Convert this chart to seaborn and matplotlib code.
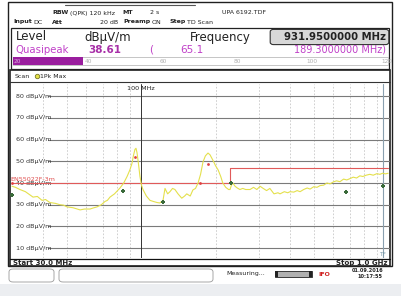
import numpy as np
import pandas as pd
import matplotlib
matplotlib.use("Agg")
import matplotlib.pyplot as plt
from matplotlib.patches import Rectangle, FancyBboxPatch
import seaborn as sns

# ---------------- data ----------------
freq_mhz = [30, 31, 32.3, 34, 36.5, 38, 39.7, 41, 42.7, 45,
            46.9, 48.5, 50.1, 53, 56.6, 59, 62.1, 64, 66.3, 69,
            71.4, 73, 74.8, 78, 82.1, 85, 87.7, 90, 91.8, 93,
            94.4, 95.3, 96.2, 97.5, 98.9, 100.3, 101.7, 105, 108.6, 112,
            116, 119, 122.6, 124.9, 128, 130.8, 134, 137, 141, 146,
            150, 153, 158, 162, 166, 170, 174, 178, 182, 186.5,
            190, 195, 200, 205, 210, 214, 220, 226, 229, 232,
            235, 240, 245, 251, 258, 265, 276, 285, 294, 303,
            312, 322, 332, 345, 358, 365, 380, 392, 401, 415,
            428, 440, 455, 470, 483, 500, 515, 530, 548, 565,
            582, 600, 618, 638, 660, 680, 700, 722, 745, 768,
            790, 815, 843, 870, 900, 926, 950, 975, 1000]
level_db = [38.5, 38.0, 37.0, 36.0, 33.5, 33.8, 32.0, 32.4, 31.0, 30.6,
            30.0, 29.8, 29.0, 28.6, 27.6, 28.0, 28.0, 28.5, 29.0, 30.0,
            31.5, 32.0, 33.5, 35.0, 37.7, 40.0, 43.0, 46.0, 49.0, 52.5,
            55.5, 56.0, 54.0, 49.0, 43.0, 39.0, 37.0, 34.0, 32.0, 31.5,
            31.0, 30.8, 32.0, 37.5, 35.0, 36.0, 37.5, 37.0, 35.0, 33.0,
            34.0, 35.0, 34.0, 36.8, 37.5, 40.0, 44.0, 49.7, 52.5, 53.8,
            53.0, 50.6, 48.0, 46.0, 43.0, 40.0, 38.0, 37.0, 37.0, 39.0,
            40.0, 38.5, 37.7, 37.0, 37.5, 37.0, 37.0, 38.0, 37.0, 38.5,
            37.5, 36.5, 37.5, 35.0, 35.5, 35.0, 36.0, 35.5, 36.0, 35.8,
            36.5, 36.0, 37.0, 37.7, 37.2, 38.3, 38.0, 38.8, 39.0, 40.0,
            39.6, 40.5, 41.0, 40.6, 41.8, 41.4, 42.0, 42.7, 42.3, 43.3,
            43.0, 43.6, 44.0, 43.6, 44.3, 44.0, 44.5, 44.2, 44.5]
limit_freq = [30, 230, 230, 1000]
limit_db = [40, 40, 47, 47]
qp_freq = [30, 94.4, 173, 186.5]
qp_db = [40, 52.0, 40.0, 48.7]
pk_freq = [30, 84.4, 122.6, 232, 675, 951]
pk_db = [34.5, 36.3, 31.2, 40.0, 36.0, 38.6]
ytick_vals = [10, 20, 30, 40, 50, 60, 70, 80]
xgrid_mhz = [40, 50, 60, 70, 80, 90, 200, 300, 400, 500, 600, 700, 800, 900]
scale_labels = ["20", "40", "60", "80", "100", "120"]

W, H = 401, 296
sns.set_style("white")
plt.rcParams["font.family"] = ["DejaVu Sans"]
fig = plt.figure(figsize=(W / 100, H / 100), dpi=100)
fig.patch.set_facecolor("white")

def fx(x):
    return x / W

def fy(y):
    return 1 - y / H

def rect(x0, y0, x1, y1, fc="none", ec="none", lw=0.8, z=0):
    r = Rectangle((fx(x0), fy(y1)), (x1 - x0) / W, (y1 - y0) / H, transform=fig.transFigure,
                  facecolor=fc, edgecolor=ec, linewidth=lw, zorder=z)
    fig.add_artist(r)
    return r

def txt(x, y, s, size=5, color="#222222", weight="normal", ha="left", va="center", **kw):
    fig.text(fx(x), fy(y), s, fontsize=size, color=color, fontweight=weight, ha=ha, va=va, **kw)

# background strips
rect(0, 284, W, H, fc="#eceef1", z=-2)
# outer instrument frame
rect(8, 2, 392, 266, ec="#202020", lw=1.0, z=1)

# header lines
fig.add_artist(plt.Line2D([fx(65), fx(195)], [fy(5), fy(5)], transform=fig.transFigure, color="#555555", lw=0.8))
txt(52, 13, "RBW", weight="bold", size=4.5)
txt(70, 13, "(QPK) 120 kHz", size=4.5)
txt(122, 13, "MT", weight="bold", size=4.5)
txt(150, 13, "2 s", size=4.5)
txt(222, 13, "UPA 6192.TDF", size=4.5)
txt(13, 22, "Input", weight="bold", size=4.5)
txt(33, 22, "DC", size=4.5)
txt(52, 22, "Att", weight="bold", size=4.5)
txt(100, 22, "20 dB", size=4.5)
txt(123, 22, "Preamp", weight="bold", size=4.5)
txt(152, 22, "ON", size=4.5)
txt(170, 22, "Step", weight="bold", size=4.5)
txt(187, 22, "TD Scan", size=4.5)

# level / frequency box
rect(11, 28, 389, 69, ec="#222222", lw=0.9, z=1)
txt(16, 37, "Level", size=8.5)
txt(84, 37, "dB\u00b5V/m", size=8.5)
txt(190, 37, "Frequency", size=8.5)
box = FancyBboxPatch((fx(271), fy(44)), 117 / W, 14 / H, boxstyle="round,pad=0.002,rounding_size=0.008",
                     transform=fig.transFigure, facecolor="#d8d8d8", edgecolor="#333333", lw=0.8)
fig.add_artist(box)
txt(386, 37.5, "931.9500000 MHz", size=7.3, weight="bold", ha="right")
mag = "#c040c8"
txt(15, 50, "Quasipeak", size=7.3, color=mag)
txt(88, 50, "38.61", size=7.5, color="#a830a8", weight="bold")
txt(149, 50, "(", size=7.5, color=mag)
txt(180, 50, "65.1", size=7.5, color=mag)
txt(386, 50, "189.3000000 MHz)", size=7.0, color=mag, ha="right")
# level bar
rect(13, 57, 388, 65, fc="white", ec="#bbbbbb", lw=0.6, z=1)
rect(13, 57, 83, 65, fc="#9a1e9e", ec="none", z=2)
for i, lab in enumerate(scale_labels):
    xx = 14 + i * 74.6
    txt(xx, 61.5, lab, size=4.2, color="#b0b0b0" if i else "#ddaadd", ha="left" if i == 0 else "center", zorder=3)

# trace panel frame
rect(10, 70, 390, 266, fc="white", ec="#222222", lw=1.2, z=-1)
fig.add_artist(plt.Line2D([fx(10), fx(390)], [fy(81.5), fy(81.5)], transform=fig.transFigure, color="#333333", lw=0.8))
fig.add_artist(plt.Line2D([fx(10), fx(390)], [fy(258.5), fy(258.5)], transform=fig.transFigure, color="#111111", lw=0.9))
txt(15, 76, "Scan", size=4.5)
fig.add_artist(plt.Line2D([fx(37)], [fy(76)], transform=fig.transFigure, marker="o", markersize=3.2,
                          markerfacecolor="#e6e24a", markeredgecolor="#777722", markeredgewidth=0.6))
txt(40, 76, "1Pk Max", size=4.5)
txt(13, 263, "Start 30.0 MHz", size=5, weight="bold")
txt(387, 263, "Stop 1.0 GHz", size=5, weight="bold", ha="right")

# main plot axes
px_per_dec = 247.0
x_left, x_right = 10, 390
f_left = 30 * 10 ** ((x_left - 12) / px_per_dec)
f_right = 30 * 10 ** ((x_right - 12) / px_per_dec)
y_top, y_bot = 84, 258
db_top = 40 + (183 - y_top) / 2.17
db_bot = 40 + (183 - y_bot) / 2.17
ax = fig.add_axes([fx(x_left), fy(y_bot), (x_right - x_left) / W, (y_bot - y_top) / H])
ax.set_zorder(3)
ax.set_facecolor("none")
ax.patch.set_alpha(0)
ax.set_xscale("log")
ax.set_xlim(f_left, f_right)
ax.set_ylim(db_bot, db_top)
for s in ax.spines.values():
    s.set_visible(False)

for f in xgrid_mhz:
    ax.axvline(f, color="#c8c8c8", lw=0.6, ls=(0, (2, 2)), zorder=1)
for v in ytick_vals:
    ax.plot([42, f_right], [v, v], color="#7a7a7a", lw=0.8, zorder=1)
    ax.text(31, v, f"{v} dB\u00b5V/m", fontsize=4.6, color="#333333", va="center", ha="left", zorder=3)
ax.axvline(100, color="#333333", lw=0.7, zorder=2)
ax.text(100, db_top - 1.0, "100 MHz", fontsize=4.6, color="#222222", ha="center", va="top")
ax.axvline(951, color="#8aa0b0", lw=0.8, zorder=2)
ax.text(951, db_bot + 0.5, "TF", fontsize=4.2, color="#7a9aaa", ha="center", va="bottom")

ax.plot(limit_freq, limit_db, color="#e05a5a", lw=0.8, zorder=3)
ax.text(29.6, 40.6, "EN55022F-3m", fontsize=4.6, color="#e05050", ha="left", va="bottom", zorder=4)

df = pd.DataFrame({"Frequency (MHz)": freq_mhz, "Level": level_db})
sns.lineplot(data=df, x="Frequency (MHz)", y="Level", ax=ax, color="#e4e04c", lw=0.8, zorder=4,
             estimator=None, sort=False)
sns.scatterplot(x=qp_freq, y=qp_db, ax=ax, color="#e04040", marker="o", s=4, linewidth=0, zorder=5)
sns.scatterplot(x=pk_freq, y=pk_db, ax=ax, color="#3a6a3a", marker="P", s=5, linewidth=0, zorder=5)
ax.set_xlabel("")
ax.set_ylabel("")
ax.set_xticks([])
ax.set_yticks([])
ax.minorticks_off()
ax.set_xlim(f_left, f_right)
ax.set_ylim(db_bot, db_top)

# status bar
fig.add_artist(FancyBboxPatch((fx(9), fy(282)), 45 / W, 13 / H, boxstyle="round,pad=0,rounding_size=0.01",
                              transform=fig.transFigure, facecolor="white", edgecolor="#999999", lw=0.6))
fig.add_artist(FancyBboxPatch((fx(59), fy(282)), 154 / W, 13 / H, boxstyle="round,pad=0,rounding_size=0.01",
                              transform=fig.transFigure, facecolor="white", edgecolor="#999999", lw=0.6))
txt(226, 274, "Measuring...", size=4.5)
rect(275, 271, 312, 277, fc="#b0b0b0", ec="#222222", lw=0.6)
rect(275, 271, 278, 277, fc="#222222")
rect(309, 271, 312, 277, fc="#222222")
txt(318, 274, "IFO", size=4.5, color="#d02020", weight="bold")
txt(368, 271, "01.09.2016", size=3.6, weight="bold", ha="center")
txt(370, 277, "10:17:55", size=3.6, weight="bold", ha="center")

fig.savefig("out.png", dpi=100)
